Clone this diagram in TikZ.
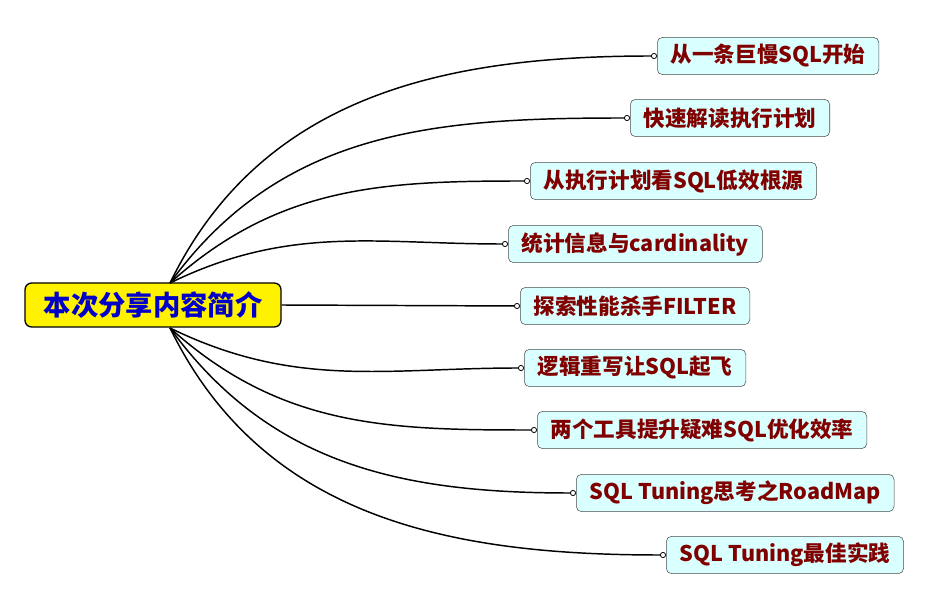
\documentclass[tikz,border=0pt]{standalone}
\usepackage{fontspec}
\setmainfont{Noto Sans CJK SC}
\usetikzlibrary{positioning,arrows.meta}
\definecolor{topicred}{RGB}{128,0,0}
\definecolor{topicfill}{RGB}{218,255,255}
\definecolor{rootblue}{RGB}{0,0,200}

\begin{document}
\begin{tikzpicture}[
    x=0.75pt, y=-0.75pt,
    root/.style={draw=black, fill=yellow, rounded corners=5pt, line width=1pt, minimum height=33pt,
        minimum width=192pt, font=\bfseries\fontsize{20.5}{24}\selectfont, text=rootblue},
    topic/.style={draw=black!70, fill=topicfill, rounded corners=4pt, minimum height=28pt,
        inner xsep=10pt, anchor=west, font=\bfseries\fontsize{16.2}{19}\selectfont, text=topicred},
    link/.style={line width=1.1pt, -{Circle[open, length=4.5pt, width=4.5pt, line width=0.6pt]}}
]
    \useasboundingbox (0,0) rectangle (946,591);

    % Central topic
    \node[root] (root) at (153,305) {本次分享内容简介};

    % Sub topics
    \node[topic] (t1) at (657,56) {从一条巨慢SQL开始};
    \node[topic] (t2) at (630,118) {快速解读执行计划};
    \node[topic] (t3) at (530,181) {从执行计划看SQL低效根源};
    \node[topic] (t4) at (508,244) {统计信息与cardinality};
    \node[topic] (t5) at (520,306) {探索性能杀手FILTER};
    \node[topic] (t6) at (524,368) {逻辑重写让SQL起飞};
    \node[topic] (t7) at (537,430) {两个工具提升疑难SQL优化效率};
    \node[topic] (t8) at (576,493) {SQL Tuning思考之RoadMap};
    \node[topic] (t9) at (666,555) {SQL Tuning最佳实践};

    % Branch start points on the central topic
    \coordinate (up) at (170,283);
    \coordinate (dn) at (170,328);

    % Branches
    \draw[link] (up) to[out=64, in=180] (t1.west);
    \draw[link] (up) to[out=54, in=180] (t2.west);
    \draw[link] (up) to[out=42, in=180] (t3.west);
    \draw[link] (up) to[out=26, in=180] (t4.west);
    \draw[link] (root.east) -- (t5.west);
    \draw[link] (dn) to[out=-26, in=180] (t6.west);
    \draw[link] (dn) to[out=-42, in=180] (t7.west);
    \draw[link] (dn) to[out=-54, in=180] (t8.west);
    \draw[link] (dn) to[out=-64, in=180] (t9.west);
\end{tikzpicture}
\end{document}
